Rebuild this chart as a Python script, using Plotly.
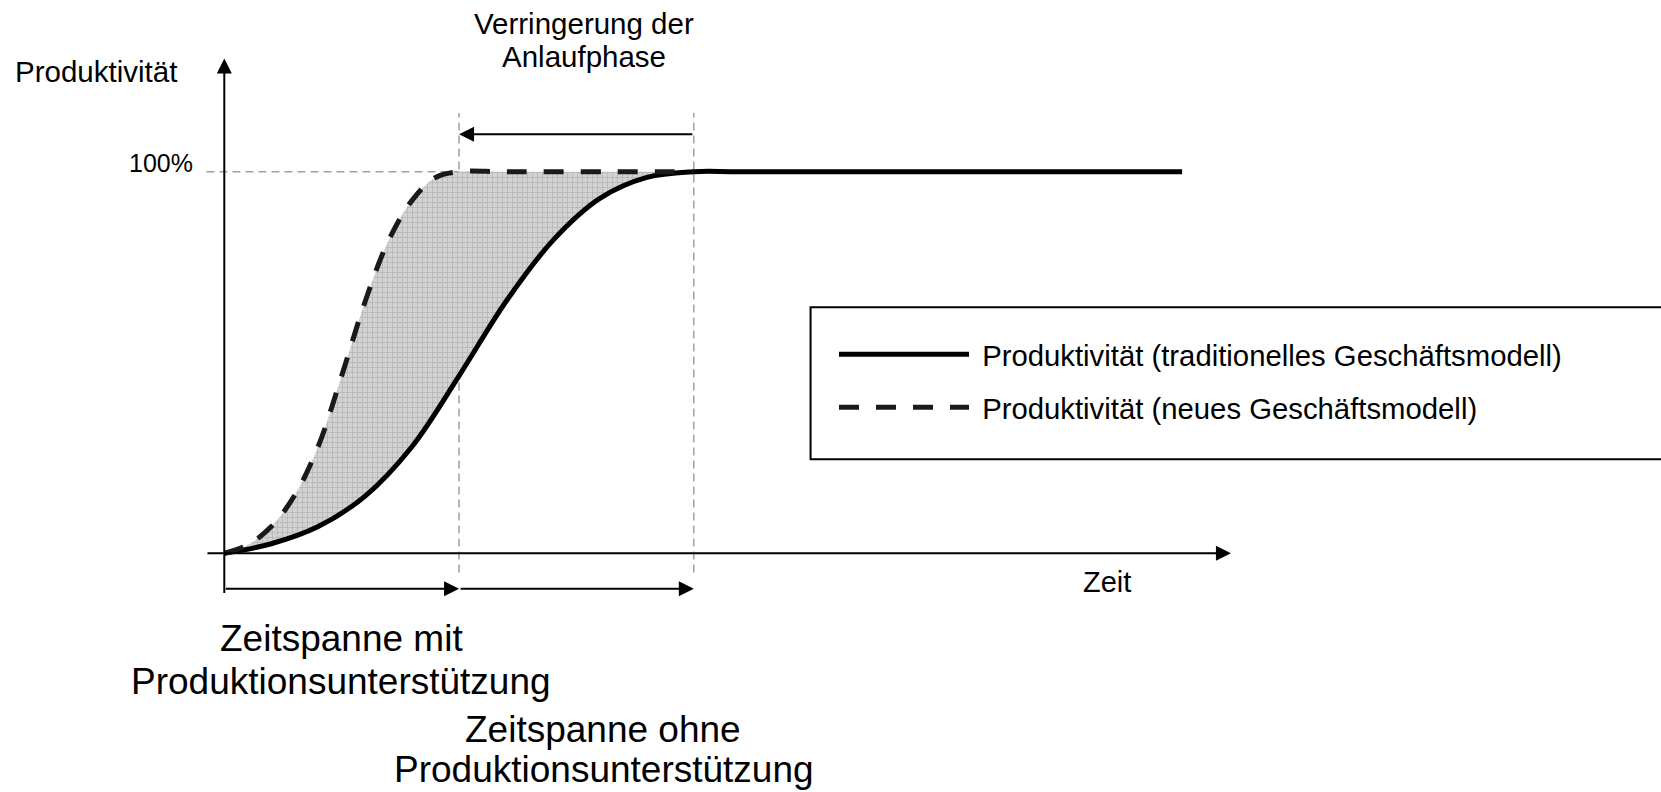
import plotly.graph_objects as go

# Zeit (beliebige Einheiten) und Produktivitaet in %
t_trad = [0, 1, 2, 3, 4, 5, 6, 7, 8, 9, 10, 11, 20.4]
p_trad = [0, 2.5, 7.0, 15.0, 28.0, 46.5, 66.0, 82.0, 93.0, 98.5, 100, 100, 100]

t_new = [0, 0.5, 1, 1.5, 2, 2.5, 3, 3.5, 4, 4.5, 5, 6, 10]
p_new = [0, 2.2, 7.0, 15.2, 28.0, 46.5, 66.0, 82.0, 92.5, 98.5, 100, 100, 100]

names = ["Produktivität (traditionelles Geschäftsmodell)", "Produktivität (neues Geschäftsmodell)"]

# Zeitpunkte, an denen 100% erreicht werden
t_full_new = t_new[p_new.index(100)]
t_full_trad = t_trad[p_trad.index(100)]
level = 100

FONT = "Liberation Sans, Arial, sans-serif"

# flaeche zwischen den kurven
i_end = t_trad.index(t_full_trad)
fill_x = t_new + t_trad[:i_end + 1][::-1]
fill_y = p_new + p_trad[:i_end + 1][::-1]

fig = go.Figure()
fig.add_trace(go.Scatter(
    x=fill_x, y=fill_y, mode="lines", fill="toself",
    line=dict(width=0, color="rgba(0,0,0,0)", shape="spline", smoothing=1),
    fillcolor="#d2d2d2",
    fillpattern=dict(shape="+", size=5, solidity=0.3, fgcolor="#989898", bgcolor="#d3d3d3"),
    showlegend=False, hoverinfo="skip"))
fig.add_trace(go.Scatter(
    x=t_trad, y=p_trad, mode="lines", name="\u00a0" + names[0], legendgroup="a",
    line=dict(color="black", width=5, shape="spline", smoothing=1)))
fig.add_trace(go.Scatter(
    x=t_new, y=p_new, mode="lines", name="\u00a0" + names[1], legendgroup="b",
    line=dict(color="#1a1a1a", width=5, dash="20px,17px", shape="spline", smoothing=1)))

grey = dict(color="#a0a0a0", width=1.5, dash="8px,5px")
fig.add_shape(type="line", x0=-0.38, x1=t_full_new, y0=level, y1=level, line=grey, layer="below")
for tv in [t_full_new, t_full_trad]:
    fig.add_shape(type="line", x0=tv, x1=tv, y0=-5, y1=115.4, line=grey, layer="below")

# legendenrahmen
fig.add_shape(type="rect", xref="paper", yref="paper", x0=0.488, x1=1.02, y0=0.42, y1=0.612,
              line=dict(color="black", width=2), fillcolor="rgba(0,0,0,0)")

arrow = dict(showarrow=True, text="", arrowhead=2, arrowsize=1.5, arrowwidth=2,
             arrowcolor="black", axref="x", ayref="y", xref="x", yref="y", standoff=0)
# achsen
fig.add_annotation(x=21.44, y=0, ax=-0.39, ay=0, **arrow)
fig.add_annotation(x=0, y=129.7, ax=0, ay=-10.8, **arrow)
# verringerung der anlaufphase
fig.add_annotation(x=t_full_new, y=109.8, ax=t_full_trad, ay=109.8, **arrow)
# zeitspannen
fig.add_annotation(x=t_full_new, y=-9.3, ax=0, ay=-9.3, **arrow)
fig.add_annotation(x=t_full_trad, y=-9.3, ax=t_full_new, ay=-9.3, **arrow)

def label(x, y, text, size, xanchor="center"):
    fig.add_annotation(x=x, y=y, xref="paper", yref="paper", text=text, showarrow=False,
                       xanchor=xanchor, yanchor="middle", font=dict(family=FONT, size=size, color="black"))

W, H = 1661, 792
label(13 / W, 1 - 71 / H, "Produktivität", 29.5, "left")
label(195 / W, 1 - 163 / H, "100%", 25, "right")
label(584 / W, 1 - 23 / H, "Verringerung der", 29.5)
label(584 / W, 1 - 56 / H, "Anlaufphase", 29.5)
label(1107 / W, 1 - 582 / H, "Zeit", 29)
label(341 / W, 1 - 638 / H, "Zeitspanne mit", 37)
label(341 / W, 1 - 681 / H, "Produktionsunterstützung", 37)
label(603 / W, 1 - 729 / H, "Zeitspanne ohne", 37)
label(604 / W, 1 - 769 / H, "Produktionsunterstützung", 37)

fig.update_layout(
    width=W, height=H,
    margin=dict(l=0, r=0, t=0, b=0),
    paper_bgcolor="white", plot_bgcolor="white",
    xaxis=dict(range=[-4.777, 30.60], visible=False, fixedrange=True),
    yaxis=dict(range=[-62.55, 145.0], visible=False, fixedrange=True),
    showlegend=True,
    legend=dict(x=0.5021, y=0.585, xanchor="left", yanchor="top", bgcolor="rgba(0,0,0,0)",
                borderwidth=0, font=dict(family=FONT, size=29.3, color="black"),
                itemwidth=130, tracegroupgap=12, traceorder="grouped"),
)

fig.write_html("out.html", config={"displayModeBar": False},
               post_script="document.body.style.margin='0px';")
